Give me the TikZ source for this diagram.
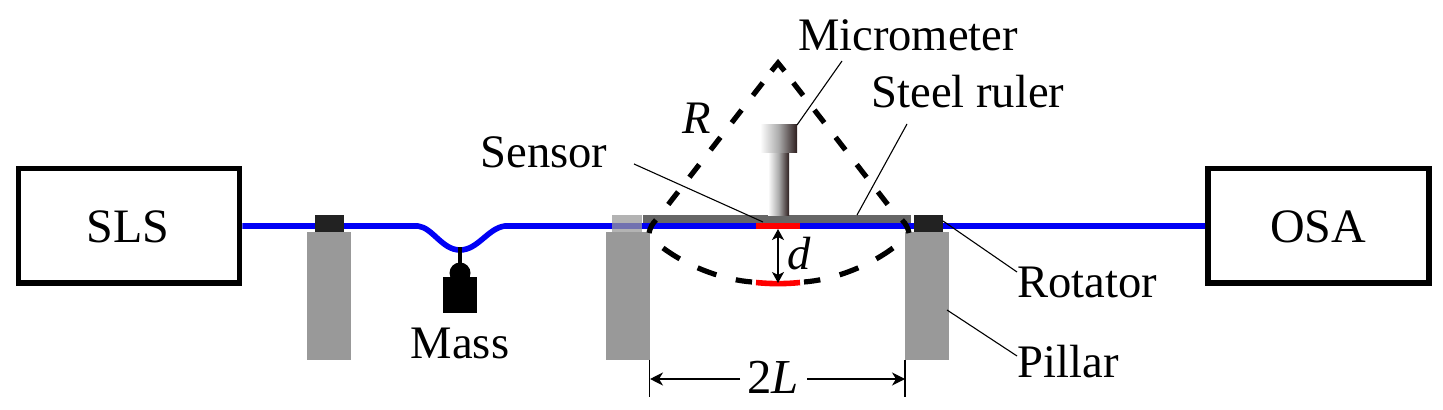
\documentclass[tikz,border=0pt]{standalone}
\usepackage{fontspec}
\setmainfont{Liberation Serif}
\usetikzlibrary{arrows.meta}
\definecolor{fibre}{RGB}{0,0,245}
\definecolor{pillarc}{RGB}{153,153,153}
\definecolor{rotc}{RGB}{34,34,34}
\definecolor{rulerc}{RGB}{102,102,102}
\definecolor{gdark}{RGB}{45,30,30}
\tikzset{
  x=0.5pt,y=-0.5pt,
  inst/.style={draw=black,line width=2.75pt,fill=white,inner sep=0pt,minimum width=110.6pt,minimum height=57.2pt},
  instlab/.style={inner sep=0pt,font=\fontsize{24}{26}\selectfont},
  lab/.style={inner sep=0pt,font=\fontsize{23.3}{26}\selectfont},
  pillarbox/.style={fill=pillarc,inner sep=0pt,outer sep=0pt,minimum width=22pt,minimum height=64pt},
  rotbox/.style={fill=rotc,inner sep=0pt,outer sep=0pt,minimum width=14.5pt,minimum height=8.5pt},
  leader/.style={draw=black,line width=0.55pt},
  dim/.style={draw=black,line width=0.65pt,-{Stealth[length=6.5pt,width=6.5pt,inset=2pt]}},
  sidedash/.style={draw=black,line width=2.6pt,dash pattern=on 8pt off 9.25pt},
  arcdash/.style={draw=black,line width=2.6pt,dash pattern=on 10pt off 10pt},
  endbit/.style={draw=black,line width=2.6pt},
  fibreline/.style={draw=fibre,line width=2.8pt,line join=round},
  redbar/.style={draw=red,line width=2.8pt},
  shade1/.style={inner sep=0pt,outer sep=0pt,left color=white,right color=gdark,middle color=gray!65},
}
\begin{document}
\begin{tikzpicture}
\useasboundingbox (0,0) rectangle (1443,410);
% instruments
\node[inst] (sls) at (129,225.8) {};
\node[inst] (osa) at (1318.4,225.8) {};
\node[instlab] (tsls) at (128,227) {SLS};
\node[instlab] (tosa) at (1318,227) {OSA};
% pillars
\node[pillarbox] (p1) at (328.5,296) {};
\node[pillarbox] (p2) at (628,296) {};
\node[pillarbox] (p3) at (927,296) {};
% fibre
\coordinate (bendL) at (418,226);
\coordinate (bendM) at (460,250);
\coordinate (bendR) at (505,226);
\draw[fibreline] (sls.east |- 0,226) -- (bendL)
  .. controls (433,228) and (442,250) .. (bendM)
  .. controls (478,250) and (488,228) .. (bendR)
  -- (osa.west |- 0,226);
% rotators
\node[rotbox] (r1) at (329,224) {};
\node[rotbox,fill=pillarc,fill opacity=0.75,minimum width=15pt] (r2) at (627,223.5) {};
\node[rotbox] (r3) at (928.5,224) {};
% ruler
\node[fill=rulerc,inner sep=0pt,outer sep=0pt,minimum width=134pt,minimum height=4pt] (ruler) at (777,219.5) {};
% micrometer
\node[shade1,minimum width=18.5pt,minimum height=14pt] (mhead) at (778.5,139) {};
\node[shade1,minimum width=10.5pt,minimum height=31pt] (mshaft) at (778.5,184.5) {};
% sensor
\coordinate (s1) at (756,226);
\coordinate (s2) at (800,226);
\draw[redbar] (s1) -- (s2);
% dashed
\coordinate (apex) at (778,63);
\draw[endbit,line join=miter] (771.5,71) -- (apex) -- (784.5,71);
\draw[sidedash] (762.7,82.8) -- (664,210);
\draw[sidedash] (793.3,82.8) -- (892,210);
\draw[arcdash] (663,248) .. controls (690,268) and (725,280) .. (752,282);
\draw[arcdash] (893,248) .. controls (866,268) and (831,280) .. (804,282);
\draw[endbit] (656,220) .. controls (652,224) and (650,228) .. (649,233);
\draw[endbit] (902,220) .. controls (906,224) and (908,228) .. (909,233);
\draw[redbar] (756,282.5) .. controls (770,284) and (786,284) .. (800,282.5);
% mass
\fill (458,247) rectangle (462,266);
\node[circle,fill=black,inner sep=0pt,outer sep=0pt,minimum size=10.5pt] (mbulb) at (460,273) {};
\node[fill=black,inner sep=0pt,outer sep=0pt,minimum width=17pt,minimum height=18pt] (mbody) at (460,295) {};
% labels
\node[lab] (tmass) at (460,343) {Mass};
\node[lab] (tsensor) at (544,152) {Sensor};
\node[lab] (tmicro) at (908,35) {Micrometer};
\node[lab] (tsteel) at (968,92) {Steel ruler};
\node[lab] (trot) at (1087,282) {Rotator};
\node[lab] (tpil) at (1068,362) {Pillar};
\node[lab] (tR) at (697,118) {\itshape R};
\node[lab] (td) at (799,254) {\itshape d};
\node[lab,font=\fontsize{24.4}{26}\selectfont] (t2L) at (773,377) {2\textit{L}};
% leaders
\coordinate (a1) at (634,164); \coordinate (a2) at (763,222);
\draw[leader] (a1) -- (a2);
\coordinate (b1) at (842,61); \coordinate (b2) at (797,125);
\draw[leader] (b1) -- (b2);
\coordinate (c1) at (907,124); \coordinate (c2) at (857,215);
\draw[leader] (c1) -- (c2);
\coordinate (e1) at (943,221); \coordinate (e2) at (1017,272);
\draw[leader] (e1) -- (e2);
\coordinate (f1) at (947,310); \coordinate (f2) at (1017,356);
\draw[leader] (f1) -- (f2);
% dims
\coordinate (dt) at (778,229); \coordinate (db) at (778,283);
\draw[draw=black,line width=0.65pt,{Stealth[length=5.5pt,width=6pt,inset=1.5pt]}-{Stealth[length=5.5pt,width=6pt,inset=1.5pt]}] (dt) -- (db);
\coordinate (ll) at (650,379); \coordinate (lr) at (905,379);
\coordinate (al) at (740,379); \coordinate (ar) at (807,379);
\coordinate (lt) at (649.5,360); \coordinate (lb) at (649.5,397);
\coordinate (rt) at (905,360); \coordinate (rb) at (905,397);
\draw[leader] (lt) -- (lb);
\draw[leader] (rt) -- (rb);
\draw[dim] (al) -- (ll);
\draw[dim] (ar) -- (lr);
\end{tikzpicture}
\end{document}
